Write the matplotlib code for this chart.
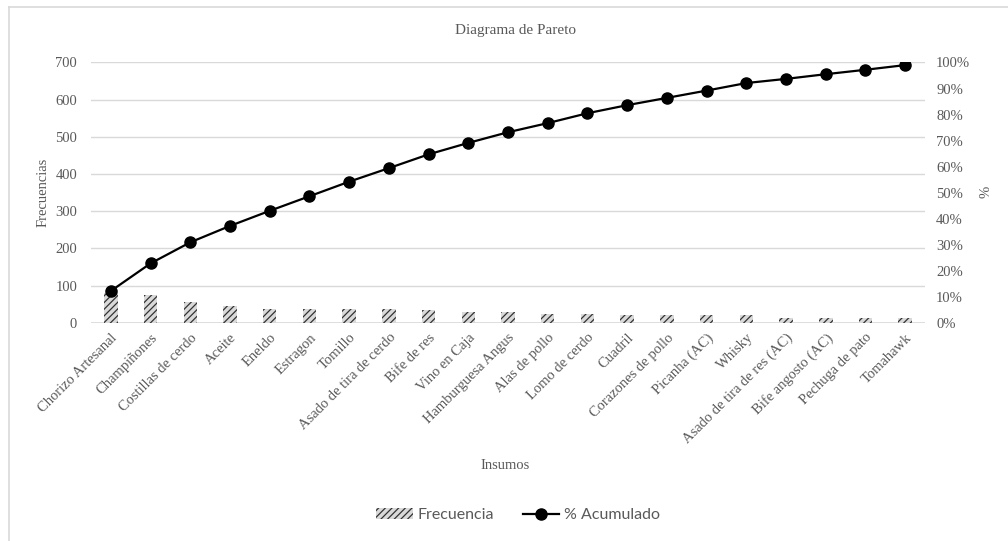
import numpy as np
import matplotlib
matplotlib.use("Agg")
import matplotlib.pyplot as plt
from matplotlib.patches import Patch
from matplotlib.lines import Line2D
from matplotlib.ticker import MultipleLocator, PercentFormatter

# insumos ordered by frequency
insumos = ["Chorizo Artesanal", "Champiñones", "Costillas de cerdo", "Aceite",
           "Eneldo", "Estragon", "Tomillo", "Asado de tira de cerdo",
           "Bife de res", "Vino en Caja", "Hamburguesa Angus", "Alas de pollo",
           "Lomo de cerdo", "Cuadril", "Corazones de pollo", "Picanha (AC)",
           "Whisky", "Asado de tira de res (AC)", "Bife angosto (AC)",
           "Pechuga de pato", "Tomahawk"]
frecuencia = [80, 74, 55, 44, 38, 38, 36, 36, 35, 30, 28, 24, 24, 21, 21, 21,
              21, 12, 12, 12, 12]
acumulado = [12.2, 22.8, 30.9, 37.2, 43.0, 48.6, 54.2, 59.4, 64.7, 69.1, 73.2,
             76.7, 80.5, 83.6, 86.4, 89.2, 92.1, 93.7, 95.5, 97.2, 99.0]

GRAY = "#595959"
GRID = "#d9d9d9"
SERIF = "Liberation Serif"
plt.rcParams["hatch.linewidth"] = 0.9

fig = plt.figure(figsize=(10.08, 5.41), dpi=100)
ax = fig.add_axes([0.0903, 0.4035, 0.8274, 0.481])

x = np.arange(len(insumos))
ax.bar(x, frecuencia, width=0.34, color="#d9d9d9", edgecolor="#333333",
       hatch="/////", linewidth=0, zorder=2)
ax.set_xlim(-0.5, len(insumos) - 0.5)
ax.set_ylim(0, 700)
ax.yaxis.set_major_locator(MultipleLocator(100))
ax.grid(axis="y", color=GRID, lw=1.0, zorder=0)
ax.set_axisbelow(True)
for s in ax.spines.values():
    s.set_visible(False)
ax.axhline(0, color=GRID, lw=1.2, zorder=1)
ax.tick_params(length=0, colors=GRAY, labelsize=10)
ax.tick_params(axis="y", pad=10)
ax.tick_params(axis="x", pad=6)
ax.set_xticks(x)
ax.set_xticklabels(insumos, rotation=45, ha="right", rotation_mode="anchor",
                   family=SERIF, fontsize=10.5)
for t in ax.get_yticklabels():
    t.set_family(SERIF)
    t.set_fontsize(10.5)

ax2 = ax.twinx()
ax2.plot(x, acumulado, color="black", lw=1.6, marker="o", markersize=8,
         zorder=3)
ax2.set_ylim(0, 100)
ax2.yaxis.set_major_locator(MultipleLocator(10))
ax2.yaxis.set_major_formatter(PercentFormatter(decimals=0))
for s in ax2.spines.values():
    s.set_visible(False)
ax2.tick_params(length=0, colors=GRAY, pad=8)
for t in ax2.get_yticklabels():
    t.set_family(SERIF)
    t.set_fontsize(10.5)

fig.text(0.511, 0.943, "Diagrama de Pareto", ha="center", va="center",
         family=SERIF, fontsize=11, color=GRAY)
fig.text(0.043, 0.645, "Frecuencias", ha="center", va="center", rotation=90,
         family=SERIF, fontsize=10.5, color=GRAY)
fig.text(0.978, 0.645, "%", ha="center", va="center", rotation=90,
         family=SERIF, fontsize=10.5, color=GRAY)
fig.text(0.501, 0.139, "Insumos", ha="center", va="center",
         family=SERIF, fontsize=10.5, color=GRAY)

handles = [Patch(facecolor="#d9d9d9", edgecolor="#333333", hatch="/////",
                 linewidth=0),
           Line2D([], [], color="black", lw=1.6, marker="o", markersize=8)]
fig.legend(handles, ["Frecuencia", "% Acumulado"], loc="center",
           bbox_to_anchor=(0.514, 0.048), ncol=2, frameon=False,
           prop={"family": "Lato", "size": 11.5}, labelcolor=GRAY,
           handlelength=2.3, handletextpad=0.3, columnspacing=1.8)

# chart-area border (left and top edges only)
fig.add_artist(Line2D([9 / 1008, 9 / 1008], [0, 1 - 7 / 541],
                      transform=fig.transFigure, color=GRID, lw=1.2))
fig.add_artist(Line2D([9 / 1008, 1], [1 - 7 / 541, 1 - 7 / 541],
                      transform=fig.transFigure, color=GRID, lw=1.2))

fig.savefig("out.png", dpi=100)
